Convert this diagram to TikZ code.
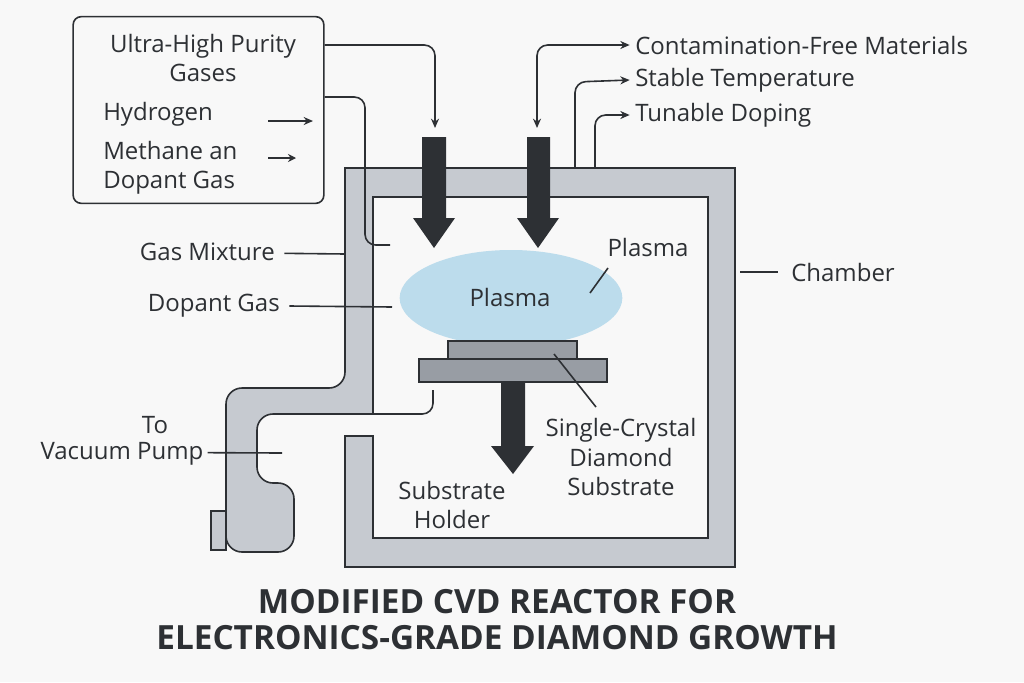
\documentclass[tikz,border=0pt]{standalone}
\usepackage{fontspec}
\setmainfont{Open Sans}
\usetikzlibrary{positioning,arrows.meta,shapes.geometric}
\definecolor{ink}{RGB}{45,48,52}
\definecolor{wall}{RGB}{198,202,208}
\definecolor{steel}{RGB}{152,157,164}
\definecolor{plasmablue}{RGB}{188,220,236}
\definecolor{paper}{RGB}{248,248,248}
\begin{document}
\begin{tikzpicture}[
    x=0.75pt, y=-0.75pt,
    lbl/.style={font=\fontsize{18}{22}\selectfont, text=ink, inner sep=0pt, align=center},  % Style for the labels
    lead/.style={ink, line width=1.2pt},                                                 % Style for the leader lines
    feed/.style={lead, rounded corners=8, -{Stealth[length=7pt,width=6pt]}},             % Style for the thin arrows
    bigarrow/.style={fill=ink, draw=none},                                               % Style for the thick arrows
    ]
    \useasboundingbox (0,0) rectangle (1024,682);
    \fill[paper] (0,0) rectangle (1024,682);

    % Gas supply box
    \node[draw=ink, line width=1.2pt, rounded corners=6, minimum width=188pt, minimum height=140pt,
          inner sep=0pt] (box) at (198.5,110) {};
    \node[lbl] (uhp) at (203,58) {Ultra-High Purity\\Gases};
    \node[lbl, anchor=west] (hyd) at (103,114) {Hydrogen};
    \node[lbl, anchor=west, align=left] (meth) at (103,168) {Methane an\\Dopant Gas};
    \coordinate (h1) at (268,121); \coordinate (h2) at (313,121);
    \coordinate (m1) at (268,158); \coordinate (m2) at (296,158);
    \draw[lead, -{Stealth[length=7pt,width=6pt]}] (h1) -- (h2);
    \draw[lead, -{Stealth[length=6pt,width=6pt]}] (m1) -- (m2);

    % Pump unit and chamber walls
    \draw[ink, line width=1.2pt, fill=wall] (211,511) rectangle (226,550);
    \draw[ink, line width=1.2pt, fill=wall]
        (345,388) -- (345,168) -- (735,168) -- (735,567) -- (345,567) -- (345,436)
        -- (373,436) -- (373,538) -- (708,538) -- (708,197) -- (373,197) -- (373,414)
        [rounded corners=12] -- (257,414) -- (257,483) -- (294,483) -- (294,552)
        -- (226,552) -- (226,388) -- cycle;

    % Plasma and substrate
    \node[ellipse, fill=plasmablue, minimum width=167pt, minimum height=72pt, inner sep=0pt] (plasma) at (511,298) {};
    \node[lbl] (plin) at (510,297) {Plasma};
    \draw[ink, line width=1.2pt, fill=steel] (448,341) rectangle (577,359);
    \draw[ink, line width=1.2pt, fill=steel] (419,359) rectangle (607,382);
    \coordinate (crys) at (554,354);
    \coordinate (hold) at (513,382);

    % Thick arrows
    \fill[bigarrow] (422,137) -- (446,137) -- (446,218) -- (455,218) -- (434,248) -- (413,218) -- (422,218) -- cycle;
    \fill[bigarrow] (527,137) -- (550,137) -- (550,218) -- (559,218) -- (538,248) -- (517,218) -- (527,218) -- cycle;
    \fill[bigarrow] (501,382) -- (525,382) -- (525,446) -- (534,446) -- (513,474) -- (491,446) -- (501,446) -- cycle;

    % Outputs on the right
    \node[lbl, anchor=west] (cfm) at (635,45) {Contamination-Free Materials};
    \node[lbl, anchor=west] (stab) at (635,80) {Stable Temperature};
    \node[lbl, anchor=west] (tun) at (635,115) {Tunable Doping};
    \coordinate (in1) at (435,128);
    \coordinate (in2) at (537,128);
    \draw[feed] (box.east |- 0,45) -- (435,45) -- (in1);
    \draw[feed, {Stealth[length=7pt,width=6pt]}-{Stealth[length=7pt,width=6pt]}] (in2) -- (537,45) -- ([xshift=-4pt]cfm.west);
    \draw[feed] (575,168) -- (575,82) -- ([xshift=-4pt]stab.west);
    \draw[feed] (595,168) -- (595,115) -- ([xshift=-4pt]tun.west);
    \draw[lead, rounded corners=8] (box.east |- 0,97) -- (365,97) -- (365,245) -- (390,245);

    % Side labels
    \node[lbl, anchor=east] (gmix) at (275,252) {Gas Mixture};
    \node[lbl, anchor=east] (dop) at (280,306) {Dopant Gas};
    \node[lbl] (to) at (155,425) {To};
    \node[lbl] (vac) at (122,454) {Vacuum Pump};
    \node[lbl] (chamb) at (843,272) {Chamber};
    \node[lbl] (plout) at (648,247) {Plasma};
    \node[lbl] (scd) at (621,457) {Single-Crystal\\Diamond\\Substrate};
    \node[lbl] (shold) at (452,505) {Substrate\\Holder};
    \draw[lead] ([xshift=7pt,yshift=-1pt]gmix.east) -- (345,254);
    \draw[lead] ([xshift=7pt]dop.east) -- (392,307);
    \draw[lead] ([xshift=3pt,yshift=1pt]vac.east) -- (282,453);
    \draw[lead] (740,272) -- ([xshift=-10pt]chamb.west);
    \draw[lead] (608,268) -- (590,293);
    \draw[lead] (crys) -- (596,407);
    \draw[lead, rounded corners=8] (433,390) -- (433,414) -- (373,414);

    % Title
    \node[font=\bfseries\fontsize{25}{27}\selectfont, text=ink, align=center] (title) at (497,620)
        {MODIFIED CVD REACTOR FOR\\ELECTRONICS-GRADE DIAMOND GROWTH};
\end{tikzpicture}
\end{document}
